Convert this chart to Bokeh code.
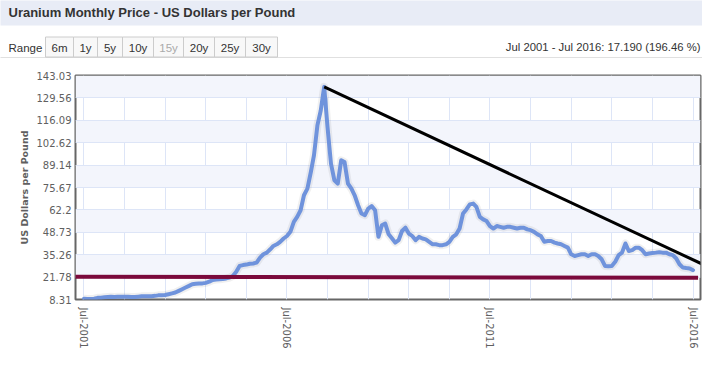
import pandas as pd
from bokeh.plotting import figure
from bokeh.layouts import column
from bokeh.models import (FixedTicker, Arrow, Range1d, DatetimeTickFormatter,
                          CustomJSTickFormatter, ColumnDataSource)
from bokeh.core.properties import value
from bokeh.embed import file_html
from bokeh.resources import INLINE

# ---------------- data ----------------
months = pd.date_range("2001-07-01", "2016-07-01", freq="MS")
prices = [
    8.75, 8.65, 8.6, 8.8, 9.3, 9.4,                                   # 2001 Jul-Dec
    9.6, 9.8, 9.9, 9.85, 9.9, 9.9, 9.9, 9.9, 9.85, 9.8, 10.0, 10.2,    # 2002
    10.2, 10.3, 10.3, 10.5, 10.8, 10.9, 11.0, 11.5, 12.0, 12.5, 13.5, 14.5,  # 2003
    15.5, 16.5, 17.5, 17.8, 18.0, 18.0, 18.3, 19.0, 20.0, 20.3, 20.5, 20.7,  # 2004
    21.0, 21.5, 22.5, 25.0, 28.5, 29.0, 29.3, 29.8, 30.0, 30.5, 33.5, 35.5,  # 2005
    36.5, 38.5, 40.5, 41.5, 43.0, 45.0, 46.5, 49.0, 55.0, 58.0, 62.0, 71.0,  # 2006
    75.0, 85.0, 95.0, 113.0, 122.0, 136.2, 112.0, 90.0, 80.0, 78.0, 92.0, 91.0,  # 2007
    78.0, 75.0, 71.0, 65.0, 60.0, 59.0, 63.0, 64.5, 62.0, 46.0, 53.0, 54.0,  # 2008
    47.5, 45.0, 42.5, 44.0, 49.5, 51.5, 48.0, 46.5, 44.0, 46.0, 45.0, 44.5,  # 2009
    43.0, 41.5, 41.5, 41.0, 41.0, 41.5, 43.0, 46.0, 47.5, 51.0, 60.0, 62.5,  # 2010
    65.5, 66.0, 64.0, 58.0, 56.5, 55.5, 52.5, 51.0, 52.5, 52.0, 51.5, 52.0,  # 2011
    52.0, 51.5, 51.0, 51.5, 51.5, 50.5, 50.0, 49.0, 47.5, 46.5, 43.0, 43.5,  # 2012
    43.5, 42.5, 42.0, 41.5, 40.5, 39.5, 35.5, 34.5, 35.0, 35.5, 35.5, 34.5,  # 2013
    35.5, 35.5, 34.5, 32.5, 28.5, 28.3, 28.5, 31.0, 35.0, 36.5, 42.0, 37.5,  # 2014
    38.0, 39.5, 39.5, 38.0, 35.5, 36.0, 36.3, 36.5, 36.8, 36.5, 36.5, 35.5,  # 2015
    35.0, 33.0, 29.5, 27.5, 27.2, 27.0, 25.94,                          # 2016 Jan-Jul
]

y_ticks = [8.31, 21.78, 35.26, 48.73, 62.2, 75.67, 89.14, 102.62, 116.09, 129.56, 143.03]
x_label_dates = ["2001-07-01", "2006-07-01", "2011-07-01", "2016-07-01"]
x_grid_dates = [f"{y}-07-01" for y in range(2001, 2017)]

trend_dates = ["2007-06-01", "2016-12-20"]
trend_values = [136.2, 26.8]
support_dates = ["2001-03-01", "2016-08-15"]
support_values = [21.96, 21.36]

title_text = "Uranium Monthly Price - US Dollars per Pound"
range_label = "Range"
range_buttons = ["6m", "1y", "5y", "10y", "15y", "20y", "25y", "30y"]
disabled_button = "15y"
summary_text = "Jul 2001 - Jul 2016: 17.190 (196.46 %)"
y_axis_title = "US Dollars per Pound"


def ms(d):
    return pd.Timestamp(d).value / 1e6


W, H = 702, 352
FONT = "Liberation Sans"
TICK_FONT = "DejaVu Sans"

# ---------------- header strip (pixel coordinates, y downwards) ----------------
HDR_H = 58
hdr = figure(width=W, height=HDR_H, output_backend="svg", toolbar_location=None,
             x_range=Range1d(0, W), y_range=Range1d(HDR_H, 0),
             x_axis_location=None, y_axis_location=None, min_border=0)
hdr.frame_align = False
hdr.title.visible = False
hdr.outline_line_color = None
hdr.grid.visible = False
hdr.background_fill_color = "#ffffff"
hdr.border_fill_color = "#ffffff"

hdr.quad(left=[-5], right=[W + 5], top=[-5], bottom=[25], fill_color="#e8ecf6", line_color=None)
hdr.text(x=[8], y=[11.5], text=[title_text], text_font=value(FONT), text_font_size="13px",
         text_font_style="bold", text_color="#333333", text_baseline="middle")
hdr.text(x=[8], y=[47], text=[range_label], text_font=value(FONT), text_font_size="11.5px",
         text_color="#333333", text_baseline="middle")
btn_widths = [28, 24, 25, 31, 30, 31, 31, 32]
lefts, rights = [], []
x0 = 45
for w in btn_widths:
    lefts.append(x0)
    rights.append(x0 + w)
    x0 += w
hdr.quad(left=lefts, right=rights, top=[36.5] * len(lefts), bottom=[56.5] * len(lefts),
         fill_color="#f8f8f8", line_color="#cccccc", line_width=1)
centers = [(a + b) / 2 for a, b in zip(lefts, rights)]
colors = ["#aaaaaa" if b == disabled_button else "#333333" for b in range_buttons]
hdr.text(x=centers, y=[47] * len(centers), text=range_buttons, text_font=value(FONT),
         text_font_size="11.5px", text_color=colors, text_align="center",
         text_baseline="middle")
hdr.text(x=[700], y=[46], text=[summary_text], text_font=value(FONT), text_font_size="11.3px",
         text_color="#333333", text_align="right", text_baseline="middle")
hdr.line([-5, W + 5], [57.5, 57.5], line_color="#c0c0c0", line_width=1)

# ---------------- main chart ----------------
MAIN_H = H - HDR_H
p = figure(width=W, height=MAIN_H, x_axis_type="datetime", output_backend="svg",
           toolbar_location=None,
           x_range=Range1d(ms("2001-04-16"), ms("2016-09-06")),
           y_range=Range1d(8.31, 143.03),
           min_border_left=75, min_border_right=2,
           min_border_top=17, min_border_bottom=MAIN_H - (299 - HDR_H))
p.frame_align = False
p.title.visible = False
p.background_fill_color = "#ffffff"
p.border_fill_color = "#ffffff"
p.outline_line_color = "#666666"
p.outline_line_width = 2

p.xgrid.ticker = FixedTicker(ticks=[ms(d) for d in x_grid_dates])
p.xgrid.grid_line_color = "#dde5f7"
p.ygrid.grid_line_color = "#dde5f7"
p.ygrid.band_fill_color = "#f3f5fc"
p.ygrid.band_fill_alpha = 1.0

p.yaxis.ticker = FixedTicker(ticks=y_ticks)
p.yaxis.formatter = CustomJSTickFormatter(code="return String(Math.round(tick*100)/100)")
p.xaxis.ticker = FixedTicker(ticks=[ms(d) for d in x_label_dates])
fmt = "%b-%Y"
p.xaxis.formatter = DatetimeTickFormatter(years=fmt, months=fmt, days=fmt, hours=fmt,
                                          minutes=fmt, seconds=fmt, milliseconds=fmt,
                                          microseconds=fmt, minsec=fmt, hourmin=fmt)
p.xaxis.major_label_orientation = "vertical"
for ax in (p.xaxis, p.yaxis):
    ax.axis_line_color = None
    ax.major_tick_line_color = None
    ax.minor_tick_line_color = None
    ax.major_tick_out = 0
    ax.major_tick_in = 0
    ax.minor_tick_out = 0
    ax.major_label_text_font = TICK_FONT
    ax.major_label_text_font_size = "10px"
    ax.major_label_text_color = "#606060"
p.xaxis.major_label_standoff = 8
p.yaxis.major_label_standoff = 4
p.yaxis.axis_label = y_axis_title
p.yaxis.axis_label_text_font = TICK_FONT
p.yaxis.axis_label_text_font_size = "9.5px"
p.yaxis.axis_label_text_font_style = "bold"
p.yaxis.axis_label_text_color = "#606060"
p.yaxis.axis_label_standoff = 4

src = ColumnDataSource(dict(date=months, price=prices))
p.line("date", "price", source=src, line_color="#000000", line_alpha=0.06,
       line_width=8, line_join="round")
p.line("date", "price", source=src, line_color="#6f93dc", line_width=4,
       line_join="round", line_cap="round")
p.line([pd.Timestamp(d) for d in support_dates], support_values,
       line_color="#7b0a3c", line_width=4)
p.add_layout(Arrow(x_start=ms(trend_dates[0]), y_start=trend_values[0],
                   x_end=ms(trend_dates[1]), y_end=trend_values[1],
                   start=None, end=None, line_color="#000000", line_width=3))

layout = column(hdr, p, spacing=0)
open("out.html", "w").write(file_html(layout, INLINE))
